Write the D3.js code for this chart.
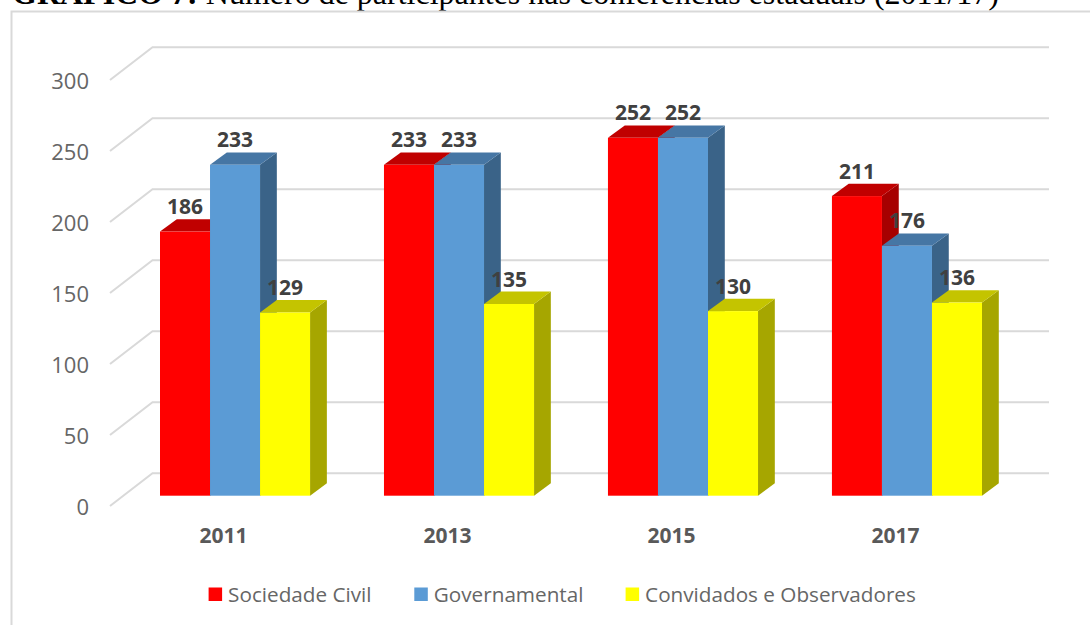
<!DOCTYPE html>
<html>
<head>
<meta charset="utf-8">
<script src="https://cdn.jsdelivr.net/npm/d3@7"></script>
<style>
  body { margin: 0; background: #fff; }
  svg { display: block; font-family: "Open Sans", sans-serif; }
</style>
</head>
<body>
<div id="chart"></div>
<script>
const years = ['2011', '2013', '2015', '2017'];
const sociedadeCivil = [186, 233, 252, 211];
const governamental = [233, 233, 252, 176];
const convidados = [129, 135, 130, 136];
const yTicks = [0, 50, 100, 150, 200, 250, 300];

const seriesNames = ['Sociedade Civil', 'Governamental', 'Convidados e Observadores'];
const seriesValues = [sociedadeCivil, governamental, convidados];
const frontColors = ['#ff0000', '#5b9bd5', '#ffff00'];
const topColors = ['#c00000', '#4676a4', '#c4c400'];
const sideColors = ['#a60000', '#3a6388', '#a6a600'];

const width = 1090;
const height = 625;

// depth of the fake 3d bars
const depthX = 16.8;
const depthY = 12.4;

const svg = d3
  .select('#chart')
  .append('svg')
  .attr('width', width)
  .attr('height', height);

// title, cut off by the top of the picture
const title = svg
  .append('text')
  .attr('x', 12)
  .attr('y', 4)
  .style('font-family', '"Liberation Serif", serif')
  .style('font-size', '32px')
  .attr('fill', '#000');
title.append('tspan').attr('font-weight', 'bold').text('GRÁFICO 7:');
title.append('tspan').text(' Número de participantes nas conferências estaduais (2011/17)');

// frame
svg
  .append('path')
  .attr('d', `M${width},11.5H11.5V${height}`)
  .attr('fill', 'none')
  .attr('stroke', '#d9d9d9')
  .attr('stroke-width', 2);

const x0 = d3.scaleBand().domain(years).range([160, 982]).paddingInner(0.33);
const x1 = d3
  .scaleBand()
  .domain(d3.range(seriesNames.length))
  .range([0, x0.bandwidth()]);

// bars stand on a floor in front of the back wall
const y = d3.scaleLinear().domain([0, 300]).range([495.7, 69.7]);
const yBack = d3.scaleLinear().domain([0, 300]).range([473.3, 47.3]);
const yFront = d3.scaleLinear().domain([0, 300]).range([506, 80]);

// gridlines
const grid = svg.append('g').attr('fill', 'none').attr('stroke', '#d9d9d9').attr('stroke-width', 2);
grid
  .selectAll('path')
  .data(yTicks)
  .join('path')
  .attr('d', (d) => `M110,${yFront(d)}L152.5,${yBack(d)}H1049`);

// value axis
const yAxis = svg
  .append('g')
  .attr('transform', 'translate(89,1)')
  .call(d3.axisLeft(yFront).tickValues(yTicks).tickSize(0).tickPadding(0));
yAxis.select('.domain').remove();
yAxis
  .selectAll('text')
  .style('font-family', '"Open Sans", sans-serif')
  .style('font-size', '22px')
  .attr('fill', '#666');

// bars, painted left to right so each one covers the side of the previous one
const groups = svg
  .append('g')
  .selectAll('g')
  .data(years)
  .join('g')
  .attr('transform', (d) => `translate(${x0(d)},0)`);

const barData = (d, i) =>
  seriesValues.map((values, s) => ({ s: s, value: values[i] }));

const bars = groups
  .selectAll('g')
  .data(barData)
  .join('g');

bars
  .append('path')
  .attr('fill', (d) => sideColors[d.s])
  .attr('d', (d) => {
    const r = x1(d.s) + x1.bandwidth();
    return `M${r},${y(d.value)}l${depthX},${-depthY}V${y(0) - depthY}L${r},${y(0)}Z`;
  });

bars
  .append('path')
  .attr('fill', (d) => topColors[d.s])
  .attr('d', (d) => {
    const l = x1(d.s);
    return `M${l},${y(d.value)}l${depthX},${-depthY}h${x1.bandwidth()}l${-depthX},${depthY}Z`;
  });

bars
  .append('rect')
  .attr('fill', (d) => frontColors[d.s])
  .attr('x', (d) => x1(d.s))
  .attr('y', (d) => y(d.value))
  .attr('width', x1.bandwidth())
  .attr('height', (d) => y(0) - y(d.value));

// labels go on last, they overlap the neighbouring bars
const labelGroups = svg
  .append('g')
  .selectAll('g')
  .data(years)
  .join('g')
  .attr('transform', (d) => `translate(${x0(d)},0)`);

labelGroups
  .selectAll('text')
  .data(barData)
  .join('text')
  .attr('x', (d) => x1(d.s) + x1.bandwidth() / 2)
  .attr('y', (d) => y(d.value) - 17.5)
  .attr('text-anchor', 'middle')
  .attr('font-weight', 'bold')
  .attr('font-size', 21)
  .attr('fill', '#404040')
  .text((d) => d.value);

// year labels
svg
  .append('g')
  .selectAll('text')
  .data(years)
  .join('text')
  .attr('x', (d) => x0(d) + x0.bandwidth() / 2 - 11.5)
  .attr('y', 543)
  .attr('text-anchor', 'middle')
  .attr('font-weight', 'bold')
  .attr('font-size', 21)
  .attr('fill', '#595959')
  .text((d) => d);

// legend
const legendX = [208.6, 414.3, 625.6];
const legend = svg
  .append('g')
  .selectAll('g')
  .data(seriesNames)
  .join('g')
  .attr('transform', (d, i) => `translate(${legendX[i]},0)`);

legend
  .append('rect')
  .attr('y', 587.5)
  .attr('width', 13.5)
  .attr('height', 13.5)
  .attr('fill', (d, i) => frontColors[i]);

legend
  .append('text')
  .attr('x', 19.5)
  .attr('y', 602)
  .attr('font-size', 20.7)
  .attr('fill', '#666')
  .text((d) => d);
</script>
</body>
</html>
